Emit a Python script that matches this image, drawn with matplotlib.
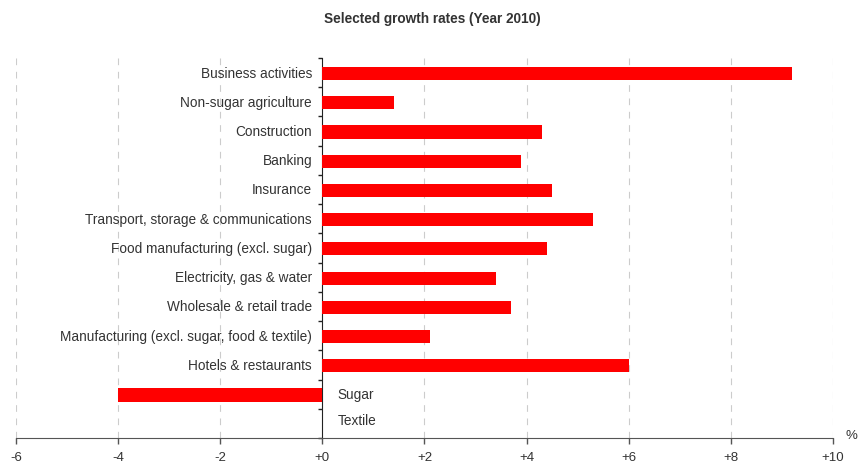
import numpy as np
import matplotlib.pyplot as plt
from matplotlib.ticker import FixedLocator

plt.rcParams['font.family'] = ['Liberation Sans', 'DejaVu Sans']

sectors = ['Business activities', 'Non-sugar agriculture', 'Construction', 'Banking',
           'Insurance', 'Transport, storage & communications',
           'Food manufacturing (excl. sugar)', 'Electricity, gas & water',
           'Wholesale & retail trade', 'Manufacturing (excl. sugar, food & textile)',
           'Hotels & restaurants', 'Sugar', 'Textile']
growth = [9.2, 1.4, 4.3, 3.9, 4.5, 5.3, 4.4, 3.4, 3.7, 2.1, 6.0, -4.0, 0.0]
xticks = [-6, -4, -2, 0, 2, 4, 6, 8, 10]
xticklabels = ['-6', '-4', '-2', '+0', '+2', '+4', '+6', '+8', '+10']

fig = plt.figure(figsize=(8.64, 4.66), dpi=100)
ax = fig.add_axes([0.0185, 0.06, 0.9455, 0.8155])

n = len(sectors)
y = np.arange(n)
ax.barh(y + 0.03, growth, height=0.45, color='#ff0000', zorder=3)

ax.set_xlim(-6, 10)
ax.set_ylim(n - 0.5, -0.5)

ax.set_xticks(xticks)
ax.set_xticklabels(xticklabels, fontsize=9.5, color='#333333')
ax.tick_params(axis='x', length=4, width=1, color='#555555', pad=6)

ax.set_yticks([])
ax.yaxis.set_minor_locator(FixedLocator(np.arange(-0.5, n, 1.0)))
ax.tick_params(axis='y', which='minor', length=3, width=1, color='#222222')

for v in xticks:
    if v != 0:
        ax.axvline(v, color='#cccccc', linestyle=(0, (6, 6)), linewidth=0.8, zorder=1)

for s in ['top', 'right']:
    ax.spines[s].set_visible(False)
ax.spines['left'].set_position(('data', 0))
ax.spines['left'].set_color('#222222')
ax.spines['bottom'].set_color('#555555')

for i, (lab, v) in enumerate(zip(sectors, growth)):
    if v > 0:
        ax.text(-0.2, i + 0.03, lab, ha='right', va='center', fontsize=9.8, color='#333333')
    else:
        ax.text(0.3, i + 0.03 - 0.1 * (v == 0), lab, ha='left', va='center',
                fontsize=9.8, color='#333333')

fig.text(0.992, 0.065, '%', ha='right', va='center', fontsize=9.5, color='#333333')
fig.suptitle('Selected growth rates (Year 2010)', x=0.5, y=0.975, fontsize=9.8,
             fontweight='bold', color='#333333')

fig.savefig('out.png', dpi=100)
